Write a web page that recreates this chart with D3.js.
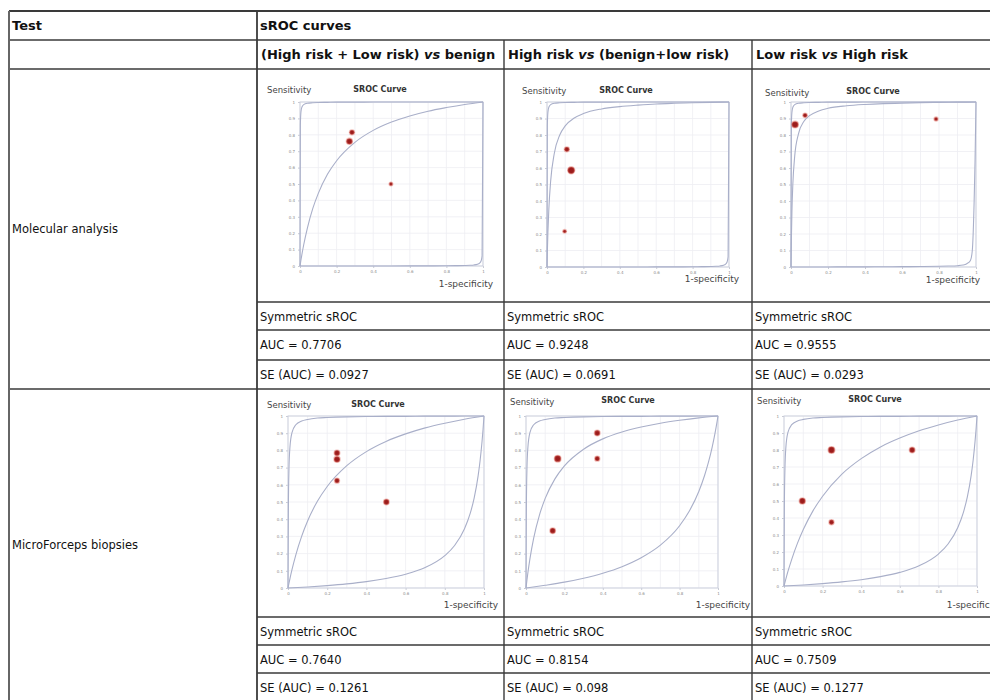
<!DOCTYPE html>
<html>
<head>
<meta charset="utf-8">
<script src="https://cdn.jsdelivr.net/npm/d3@7"></script>
<style>
  html, body { margin: 0; padding: 0; background: #fff; }
  svg { display: block; }
</style>
</head>
<body>
<svg id="chart" width="990" height="700"></svg>
<script>
// ---- Table content ----
const headerTest = "Test";
const headerCurves = "sROC curves";
const comparisons = [
  "(High risk + Low risk) vs benign",
  "High risk vs (benign+low risk)",
  "Low risk vs High risk"
];
const tests = ["Molecular analysis", "MicroForceps biopsies"];
const summaryLabel = "Symmetric sROC";
const aucValues = [[0.7706, 0.9248, 0.9555], [0.7640, 0.8154, 0.7509]];
const seValues = [[0.0927, 0.0691, 0.0293], [0.1261, 0.098, 0.1277]];

// ---- Axis ticks ----
const yTicks = [0, 0.1, 0.2, 0.3, 0.4, 0.5, 0.6, 0.7, 0.8, 0.9, 1];
const xTicks = [0, 0.2, 0.4, 0.6, 0.8, 1];
const xGrid = [0, 0.1, 0.2, 0.3, 0.4, 0.5, 0.6, 0.7, 0.8, 0.9, 1];

// ---- sROC curves: 1-specificity grid and sensitivity per panel ----
const fprGrid = [0, 0.002, 0.005, 0.01, 0.02, 0.04, 0.07, 0.1, 0.15, 0.2, 0.3, 0.4, 0.5, 0.6, 0.7, 0.8, 0.9, 1];
const lowerFprGrid = [0, 0.1, 0.2, 0.3, 0.4, 0.5, 0.6, 0.7, 0.8, 0.85, 0.9, 0.93, 0.95, 0.97, 0.98, 0.99, 0.995, 1];

// fitted symmetric curve
const midTpr = [
  [0, 0.014, 0.035, 0.068, 0.128, 0.230, 0.351, 0.443, 0.559, 0.642, 0.754, 0.827, 0.878, 0.915, 0.944, 0.966, 0.985, 1],
  [0, 0.096, 0.210, 0.349, 0.520, 0.688, 0.800, 0.855, 0.903, 0.930, 0.958, 0.972, 0.981, 0.988, 0.992, 0.995, 0.998, 1],
  [0, 0.167, 0.334, 0.503, 0.671, 0.806, 0.883, 0.917, 0.946, 0.962, 0.977, 0.985, 0.990, 0.993, 0.996, 0.998, 0.999, 1],
  [0, 0.011, 0.028, 0.055, 0.105, 0.193, 0.302, 0.390, 0.504, 0.590, 0.711, 0.793, 0.852, 0.896, 0.931, 0.958, 0.981, 1],
  [0, 0.019, 0.047, 0.090, 0.166, 0.290, 0.424, 0.521, 0.633, 0.710, 0.807, 0.867, 0.907, 0.936, 0.958, 0.975, 0.989, 1],
  [0, 0.009, 0.022, 0.043, 0.084, 0.157, 0.252, 0.332, 0.442, 0.528, 0.658, 0.749, 0.818, 0.870, 0.913, 0.947, 0.976, 1]
];
// upper bound (on fprGrid)
const upperTpr = [
  [0, 0.857, 0.938, 0.968, 0.984, 0.992, 0.995, 0.997, 0.998, 0.999, 0.999, 1, 1, 1, 1, 1, 1, 1],
  [0, 0.857, 0.938, 0.968, 0.984, 0.992, 0.995, 0.997, 0.998, 0.999, 0.999, 1, 1, 1, 1, 1, 1, 1],
  [0, 0.857, 0.938, 0.968, 0.984, 0.992, 0.995, 0.997, 0.998, 0.999, 0.999, 1, 1, 1, 1, 1, 1, 1],
  [0, 0.474, 0.693, 0.820, 0.902, 0.949, 0.971, 0.980, 0.988, 0.991, 0.995, 0.997, 0.998, 0.998, 0.999, 0.999, 1, 1],
  [0, 0.474, 0.693, 0.820, 0.902, 0.949, 0.971, 0.980, 0.988, 0.991, 0.995, 0.997, 0.998, 0.998, 0.999, 0.999, 1, 1],
  [0, 0.474, 0.693, 0.820, 0.902, 0.949, 0.971, 0.980, 0.988, 0.991, 0.995, 0.997, 0.998, 0.998, 0.999, 0.999, 1, 1]
];
// lower bound (on lowerFprGrid)
const lowerTpr = [
  [0, 0, 0, 0, 0, 0.0003, 0.0005, 0.0008, 0.0013, 0.002, 0.003, 0.0044, 0.0063, 0.011, 0.016, 0.032, 0.062, 1],
  [0, 0, 0, 0, 0, 0.0003, 0.0005, 0.0008, 0.0013, 0.002, 0.003, 0.0044, 0.0063, 0.011, 0.016, 0.032, 0.062, 1],
  [0, 0.0002, 0.0004, 0.0007, 0.001, 0.0015, 0.002, 0.003, 0.005, 0.006, 0.008, 0.012, 0.02, 0.04, 0.10, 0.40, 0.65, 1],
  [0, 0.006, 0.014, 0.024, 0.037, 0.055, 0.080, 0.119, 0.188, 0.247, 0.343, 0.435, 0.524, 0.652, 0.740, 0.852, 0.920, 1],
  [0, 0.016, 0.034, 0.057, 0.086, 0.124, 0.176, 0.249, 0.362, 0.446, 0.561, 0.654, 0.730, 0.821, 0.874, 0.934, 0.966, 1],
  [0, 0.006, 0.014, 0.024, 0.037, 0.055, 0.080, 0.119, 0.188, 0.247, 0.343, 0.435, 0.524, 0.652, 0.740, 0.852, 0.920, 1]
];

// individual studies: [1-specificity, sensitivity, weight]
const studies = [
  [[0.270, 0.760, 3], [0.284, 0.815, 2], [0.497, 0.500, 1]],
  [[0.133, 0.586, 4], [0.109, 0.713, 2], [0.097, 0.216, 1]],
  [[0.022, 0.863, 3.5], [0.076, 0.919, 1.5], [0.784, 0.897, 1.2]],
  [[0.250, 0.785, 2.5], [0.250, 0.748, 3], [0.250, 0.624, 2], [0.502, 0.500, 2.5]],
  [[0.165, 0.752, 3.5], [0.371, 0.901, 2.5], [0.371, 0.752, 2], [0.139, 0.333, 2.5]],
  [[0.246, 0.800, 3.5], [0.664, 0.800, 2.5], [0.095, 0.500, 3], [0.246, 0.375, 2]]
];

const chartTitle = "SROC Curve";
const yAxisLabel = "Sensitivity";
const xAxisLabel = "1-specificity";

// ---- Layout ----
const W = 990, H = 700;
const colX = [9, 257, 504, 752, 1000];
const rowY = { top: 11, head1: 40, head2: 69 };
const testRows = [
  { chartTop: 69, lines: [302, 330, 360], bottom: 389, labelY: 233 },
  { chartTop: 389, lines: [617, 645, 673], bottom: 705, labelY: 549 }
];
const panels = [
  { x0: 300, x1: 483, y0: 102, y1: 266, sens: [267, 93], title: [380, 92], spec: [493, 287] },
  { x0: 547, x1: 729, y0: 102, y1: 267, sens: [522, 94], title: [626, 93], spec: [739, 282] },
  { x0: 791, x1: 976, y0: 102, y1: 267, sens: [765, 96], title: [873, 94], spec: [980, 283] },
  { x0: 288, x1: 484, y0: 416, y1: 588, sens: [267, 408], title: [378, 407], spec: [498, 608] },
  { x0: 526, x1: 718, y0: 416, y1: 588, sens: [510, 405], title: [628, 403], spec: [750, 608] },
  { x0: 784, x1: 977, y0: 416, y1: 586, sens: [757, 404], title: [875, 402], spec: [1001, 608] }
];

const tableFont = "'DejaVu Sans', Verdana, sans-serif";
const svg = d3.select("#chart");

// ---- Table text ----
const text = svg.append("g").attr("font-family", tableFont).attr("fill", "#111");

text.append("text").attr("x", 12).attr("y", 30).attr("font-size", 13).attr("font-weight", "bold").text(headerTest);
text.append("text").attr("x", 260).attr("y", 30).attr("font-size", 13).attr("font-weight", "bold").text(headerCurves);

comparisons.forEach((c, i) => {
  const parts = c.split(" vs ");
  const t = text.append("text").attr("x", colX[i + 1] + 4).attr("y", 59)
    .attr("font-size", 13).attr("font-weight", "bold");
  t.append("tspan").text(parts[0] + " ");
  t.append("tspan").attr("font-style", "italic").text("vs");
  t.append("tspan").text(" " + parts[1]);
});

tests.forEach((name, r) => {
  const row = testRows[r];
  text.append("text").attr("x", 12).attr("y", row.labelY).attr("font-size", 11.5).text(name);
  comparisons.forEach((c, i) => {
    const x = colX[i + 1] + 3;
    const ys = row.lines.map(v => v + 19);
    text.append("text").attr("x", x).attr("y", ys[0]).attr("font-size", 11.5).text(summaryLabel);
    text.append("text").attr("x", x).attr("y", ys[1]).attr("font-size", 11.5)
      .text("AUC = " + d3.format(".4f")(aucValues[r][i]));
    text.append("text").attr("x", x).attr("y", ys[2]).attr("font-size", 11.5)
      .text("SE (AUC) = " + String(seValues[r][i]));
  });
});

// ---- sROC panels ----
const radius = d3.scaleSqrt().domain([0, 4]).range([0, 3.4]);

panels.forEach((p, k) => {
  const x = d3.scaleLinear().domain([0, 1]).range([p.x0, p.x1]);
  const y = d3.scaleLinear().domain([0, 1]).range([p.y1, p.y0]);
  const g = svg.append("g");

  // grid
  g.append("g").selectAll("line").data(xGrid).join("line")
    .attr("x1", d => x(d)).attr("x2", d => x(d)).attr("y1", p.y0).attr("y2", p.y1)
    .attr("stroke", "#eeeef3").attr("stroke-width", 0.8);
  g.append("g").selectAll("line").data(yTicks).join("line")
    .attr("x1", p.x0).attr("x2", p.x1).attr("y1", d => y(d)).attr("y2", d => y(d))
    .attr("stroke", "#eeeef3").attr("stroke-width", 0.8);

  // axes (tiny tick labels)
  const ya = g.append("g").attr("transform", `translate(${p.x0},0)`)
    .call(d3.axisLeft(y).tickValues(yTicks).tickSize(2).tickFormat(d => String(d)));
  const xa = g.append("g").attr("transform", `translate(0,${p.y1})`)
    .call(d3.axisBottom(x).tickValues(xTicks).tickSize(2).tickFormat(d => String(d)));
  [ya, xa].forEach(a => {
    a.select(".domain").remove();
    a.selectAll(".tick line").attr("stroke", "#a4a8b8").attr("stroke-width", 0.6);
    a.selectAll(".tick text").attr("font-size", 4).attr("fill", "#8a8a8a")
      .attr("font-family", "'DejaVu Sans', sans-serif");
  });
  ya.selectAll(".tick text").attr("x", -5);
  xa.selectAll(".tick text").attr("y", 4);

  // frame
  g.append("rect").attr("x", p.x0).attr("y", p.y0)
    .attr("width", p.x1 - p.x0).attr("height", p.y1 - p.y0)
    .attr("fill", "none").attr("stroke", "#cdd1de").attr("stroke-width", 1);

  const line = d3.line().x(d => x(d[0])).y(d => y(d[1])).curve(d3.curveMonotoneX);
  const curves = [
    fprGrid.map((f, i) => [f, upperTpr[k][i]]),
    lowerFprGrid.map((f, i) => [f, lowerTpr[k][i]]),
    fprGrid.map((f, i) => [f, midTpr[k][i]])
  ];
  g.append("g").selectAll("path").data(curves).join("path")
    .attr("d", line).attr("fill", "none")
    .attr("stroke", "#a9afc9").attr("stroke-width", 1.1);

  // studies
  g.append("g").selectAll("circle").data(studies[k]).join("circle")
    .attr("cx", d => x(d[0])).attr("cy", d => y(d[1])).attr("r", d => radius(d[2]))
    .attr("fill", "#9b1c1c").attr("stroke", "rgba(225,110,100,0.45)").attr("stroke-width", 1.6);

  // labels
  g.append("text").attr("x", p.sens[0]).attr("y", p.sens[1])
    .attr("font-family", tableFont).attr("font-size", 8.5).attr("fill", "#444").text(yAxisLabel);
  g.append("text").attr("x", p.title[0]).attr("y", p.title[1]).attr("text-anchor", "middle")
    .attr("font-family", tableFont).attr("font-size", 8).attr("font-weight", "bold").attr("fill", "#333").text(chartTitle);
  g.append("text").attr("x", p.spec[0]).attr("y", p.spec[1]).attr("text-anchor", "end")
    .attr("font-family", tableFont).attr("font-size", 9).attr("fill", "#444").text(xAxisLabel);
});

// ---- Table rules ----
const rules = svg.append("g").attr("stroke", "#3a3a3a").attr("stroke-width", 1.4);
const hline = (y, x1, x2, w) => rules.append("line").attr("x1", x1).attr("x2", x2).attr("y1", y).attr("y2", y).attr("stroke-width", w || 1.4);
const vline = (x, y1, y2, w) => rules.append("line").attr("x1", x).attr("x2", x).attr("y1", y1).attr("y2", y2).attr("stroke-width", w || 1.4);

hline(rowY.top, colX[0], W, 2);
hline(rowY.head1, colX[0], W);
hline(rowY.head2, colX[0], W);
testRows.forEach(row => {
  row.lines.forEach(yy => hline(yy, colX[1], W));
  if (row.bottom < H) hline(row.bottom, colX[0], W);
});
vline(colX[0], rowY.top, H, 2).attr("stroke", "#666");
vline(colX[1], rowY.top, H, 1.8);
vline(colX[2], rowY.head1, H);
vline(colX[3], rowY.head1, H);
</script>
</body>
</html>
